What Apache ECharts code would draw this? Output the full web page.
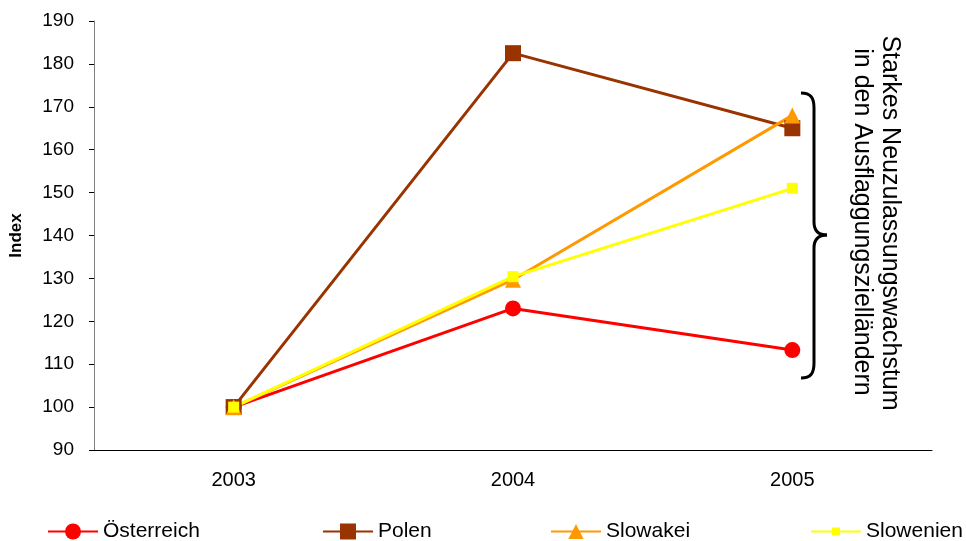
<!DOCTYPE html>
<html>
<head>
<meta charset="utf-8">
<script src="https://cdn.jsdelivr.net/npm/echarts@6/dist/echarts.min.js"></script>
<style>
  html, body { margin: 0; padding: 0; background: #fff; }
  #chart { width: 966px; height: 541px; }
</style>
</head>
<body>
<div id="chart"></div>
<script>
// Registration index (2003 = 100)
const years = ['2003', '2004', '2005'];
const oesterreich = [100, 123, 113.3];
const polen = [100, 182.5, 165];
const slowakei = [100, 129.7, 168];
const slowenien = [100, 130.4, 151];

const FONT = '"Liberation Sans", Arial, sans-serif';

const chart = echarts.init(document.getElementById('chart'));

function lineSeries(name, data, color, symbol, size) {
  return {
    name: name,
    type: 'line',
    data: data,
    symbol: symbol,
    symbolSize: size,
    lineStyle: { color: color, width: 3 },
    itemStyle: { color: color },
    emphasis: { disabled: true },
    animation: false
  };
}

// One legend per entry so each sits at its own spot along the bottom
function legendAt(name, left, iconHeight) {
  return {
    data: [name],
    left: left,
    top: 521,
    padding: 0,
    itemWidth: 50,
    itemHeight: iconHeight,
    textStyle: { fontFamily: FONT, fontSize: 21, color: '#000' }
  };
}

// Curly brace built from curve and line pieces
const braceStyle = { fill: 'none', stroke: '#000', lineWidth: 3 };
function curve(x1, y1, cx1, cy1, cx2, cy2, x2, y2) {
  return { type: 'bezierCurve', shape: { x1: x1, y1: y1, cpx1: cx1, cpy1: cy1, cpx2: cx2, cpy2: cy2, x2: x2, y2: y2 }, style: braceStyle };
}
function seg(x1, y1, x2, y2) {
  return { type: 'line', shape: { x1: x1, y1: y1, x2: x2, y2: y2 }, style: braceStyle };
}

chart.setOption({
  backgroundColor: '#fff',
  animation: false,
  grid: { left: 93, right: 34, top: 21, bottom: 91 },
  legend: [
    legendAt('Österreich', 47, 20),
    legendAt('Polen', 322, 20),
    legendAt('Slowakei', 550, 19),
    legendAt('Slowenien', 810, 10)
  ],
  xAxis: {
    type: 'category',
    data: years,
    boundaryGap: true,
    axisLine: { lineStyle: { color: '#000', width: 1 } },
    axisTick: { length: 8, lineStyle: { color: '#000' } },
    axisLabel: { fontFamily: FONT, fontSize: 20, color: '#000', margin: 20 },
    splitLine: { show: false }
  },
  yAxis: {
    type: 'value',
    min: 90,
    max: 190,
    interval: 10,
    name: 'Index',
    nameLocation: 'middle',
    nameGap: 69,
    nameRotate: 90,
    nameTextStyle: { fontFamily: FONT, fontSize: 17, fontWeight: 'bold', color: '#000' },
    axisLine: { show: true, lineStyle: { color: '#808080', width: 1 } },
    axisTick: { show: true, length: 5, lineStyle: { color: '#000' } },
    axisLabel: { fontFamily: FONT, fontSize: 19, color: '#000', margin: 20 },
    splitLine: { show: false }
  },
  series: [
    lineSeries('Österreich', oesterreich, '#FF0000', 'circle', 16),
    lineSeries('Polen', polen, '#993300', 'rect', 16),
    lineSeries('Slowakei', slowakei, '#FF9900', 'triangle', 16),
    lineSeries('Slowenien', slowenien, '#FFFF00', 'rect', 11)
  ],
  graphic: [
    curve(801, 93, 811, 93, 814, 98, 814, 108),
    seg(814, 108, 814, 222),
    curve(814, 222, 814, 230, 818, 235, 827, 235),
    curve(827, 235, 818, 235, 814, 240, 814, 248),
    seg(814, 248, 814, 363),
    curve(814, 363, 814, 373, 811, 378, 801, 378),
    {
      type: 'text',
      x: 890,
      y: 223,
      rotation: -Math.PI / 2,
      style: {
        text: 'Starkes Neuzulassungswachstum',
        font: '25px ' + FONT,
        fill: '#000',
        textAlign: 'center',
        textVerticalAlign: 'middle'
      }
    },
    {
      type: 'text',
      x: 862,
      y: 222,
      rotation: -Math.PI / 2,
      style: {
        text: 'in den Ausflaggungszielländern',
        font: '25px ' + FONT,
        fill: '#000',
        textAlign: 'center',
        textVerticalAlign: 'middle'
      }
    }
  ]
});
</script>
</body>
</html>
